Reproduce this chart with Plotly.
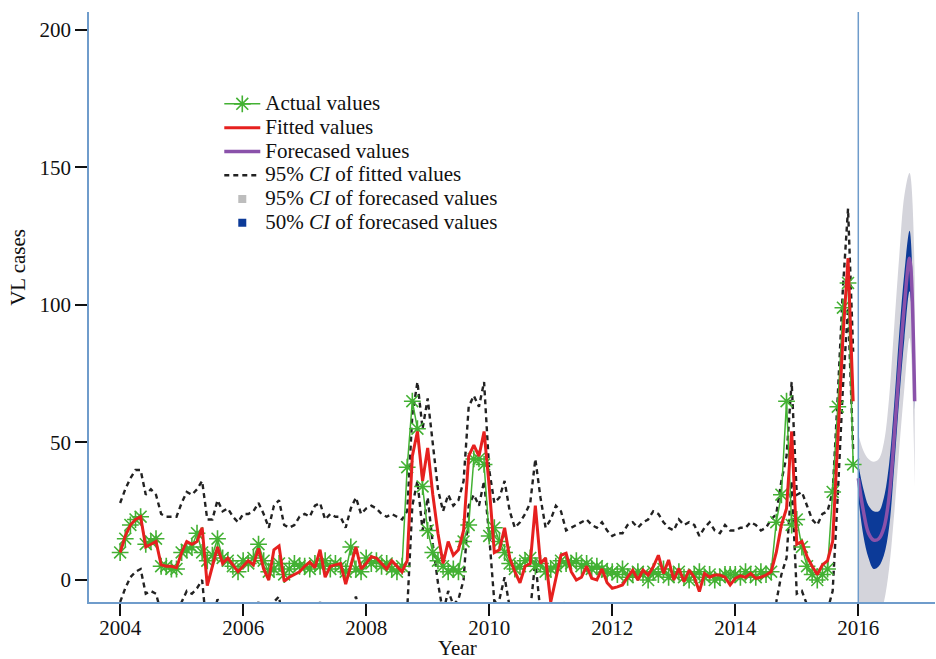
import plotly.graph_objects as go

# ---------------- data (monthly, Jan 2004 - Dec 2015) ----------------
years = list(range(2004, 2016))

actual = [
    10, 15, 20, 22, 23, 13, 14, 15, 5, 5, 4, 4,          # 2004
    10, 11, 12, 17, 10, 7, 9, 15, 8, 7, 5, 3,            # 2005
    7, 6, 8, 13, 7, 3, 4, 6, 2, 4, 6, 5,                 # 2006
    5, 4, 6, 5, 7, 4, 6, 5, 3, 12, 4, 3,                 # 2007
    8, 6, 7, 5, 6, 4, 3, 5, 41, 65, 55, 34,              # 2008
    18, 10, 7, 5, 3, 4, 3, 14, 20, 44, 44, 42,           # 2009
    16, 19, 14, 10, 6, 4, 5, 7, 8, 5, 6, 3,              # 2010
    4, 5, 7, 6, 6, 7, 5, 6, 4, 5, 4, 3,                  # 2011
    3, 2, 4, 1, 2, 3, 2, 0, 3, 2, 4, 1,                  # 2012
    2, 3, 1, 0, 2, 3, 1, 2, 0, 1, 2, 2,                  # 2013
    2, 1, 3, 2, 1, 3, 2, 3, 21, 31, 65, 20,              # 2014
    22, 12, 5, 2, 0, 2, 4, 32, 63, 99, 108, 42,          # 2015
]

fitted = [
    10, 16, 20, 22, 23, 12, 13, 14, 5.5, 5, 5, 4.5,
    10, 14, 13, 14, 19, -2, 5, 12, 6, 8, 5.5, 3,
    5, 7, 5.5, 11.5, 4, 0, 11, 12.4, -0.5, 1, 2, 3,
    5, 6.5, 4.5, 11, 1, 5, 5.5, 6, -1.5, 5, 12, 4,
    6, 8.5, 8, 6, 4, 7, 5, 3, 7, 45, 54, 36,
    48, 31, 17, 6, 14, 9, 11, 18, 45, 49, 45, 54,
    34, 10, 11, 19, 8, 3, -1, 5, 6, 27, 6, 8,
    -8, 1, 9, 9.7, 3, 0, 1, 5, 0.6, 0, 4, -1,
    -3, -2.5, -1.8, 1, 3.6, 0, 3.6, 1.8, 4.8, 9, 2.4, 7.3,
    0, 4.2, -0.6, 3.6, 1, -4.2, 2.4, 1, 1.8, 1.8, 1, -1.8,
    0.6, 1.5, 1, 2.4, 0.6, 1, 1.8, 3, 10, 20, 26, 54,
    13, 14, 8.5, 5, 2, 5.5, 7, 14, 49, 88, 117, 65,
]

ci_fit_upper = [
    28, 33, 37, 40, 40, 31, 33, 31, 24, 23, 23, 23,
    28, 32, 31, 33, 36, 22, 22, 29, 25, 26, 23, 21,
    24, 24, 25, 28, 24, 19, 27, 29, 20, 19, 20, 23,
    24, 23, 27, 28, 22, 24, 23, 23, 19, 26, 30, 24,
    26, 27, 26, 24, 23, 24, 23, 22, 25, 60, 72, 55,
    66, 50, 33, 25, 31, 27, 29, 36, 63, 67, 63, 72,
    40, 28, 30, 36, 25, 19, 21, 24, 28, 44, 30, 19,
    22, 27, 25, 18, 19, 20, 21, 22, 20, 19, 21, 18,
    16, 17, 17, 20, 21, 19, 21, 22, 25, 24, 21, 19,
    18, 22, 20, 21, 20, 16, 19, 21, 18, 17, 20, 18,
    18, 19, 19, 21, 20, 18, 19, 22, 24, 36, 45, 72,
    31, 32, 27, 22, 20, 24, 25, 32, 67, 106, 135, 83,
]

ci_fit_lower = [
    -8, -3, 1, 3, 4, -5, -4, -5, -12, -13, -13, -13,
    -8, -4, -5, -3, 0, -20, -14, -7, -11, -10, -13, -15,
    -13, -11, -13, -8, -14, -18, -8, -6, -18, -17, -16, -15,
    -13, -12, -14, -8, -17, -13, -12, -12, -19, -12, -6, -14,
    -13, -9, -10, -13, -14, -11, -13, -15, -11, 27, 36, 18,
    30, 13, -1, -12, -4, -9, -7, 0, 27, 31, 27, 36,
    16, -8, -7, 1, -10, -15, -13, -12, -11, 7, -12, -10,
    -26, -17, -9, -8, -15, -18, -17, -13, -17, -18, -14, -19,
    -21, -20, -20, -14, -18, -14, -16, -13, -9, -16, -11, -18,
    -14, -19, -14, -17, -22, -16, -17, -17, -16, -16, -17, -20,
    -17, -17, -16, -15, -17, -17, -16, -15, -8, 2, 8, 36,
    -5, -4, -9, -13, -16, -12, -11, -4, 31, 70, 99, 47,
]

# ---------------- forecast (monthly 2016) ----------------
forecast = [37, 25, 17, 14.5, 15, 19, 30, 52, 77, 100, 117, 65]
ci50_lo = [30, 16, 8, 4, 5, 9, 19, 41, 66, 88, 105, 62]
ci50_hi = [42, 33, 27, 25, 25, 30, 42, 64, 90, 112, 127, 68]
ci95_lo = [-12, -14, -16, -16, -14, -8, 4, 24, 48, 70, 88, 34]
ci95_hi = [53, 47, 44, 43, 44, 50, 66, 92, 118, 140, 148, 110]

x_ticks = [2004, 2006, 2008, 2010, 2012, 2014, 2016]
y_ticks = [0, 50, 100, 150, 200]

# ---------------- build ----------------
x_hist = [y + m / 12 for y in years for m in range(12)]
x_fc = [2016 + m / 12 for m in range(12)]

FONT = "Liberation Serif, Times New Roman, serif"
GREEN = "#43b133"
RED = "#e6201f"
PURPLE = "#8a52aa"
BLUE = "#0c3a98"
GRAY = "#d4d4db"
AXIS = "#6f9ccb"


def leg(txt):
    # legend row spacing follows the legend font size; the text itself is drawn larger
    return '<span style="font-size:21px">' + txt + '</span>'


fig = go.Figure()

# 95% CI forecast band
fig.add_trace(go.Scatter(x=x_fc, y=ci95_lo, mode="lines", line=dict(width=0, shape="spline"),
                         showlegend=False, hoverinfo="skip"))
fig.add_trace(go.Scatter(x=x_fc, y=ci95_hi, mode="lines", line=dict(width=0, shape="spline"),
                         fill="tonexty", fillcolor=GRAY, showlegend=False, hoverinfo="skip"))
# 50% CI forecast band
fig.add_trace(go.Scatter(x=x_fc, y=ci50_lo, mode="lines", line=dict(width=0, shape="spline"),
                         showlegend=False, hoverinfo="skip"))
fig.add_trace(go.Scatter(x=x_fc, y=ci50_hi, mode="lines", line=dict(width=0, shape="spline"),
                         fill="tonexty", fillcolor=BLUE, showlegend=False, hoverinfo="skip"))

# forecast line
fig.add_trace(go.Scatter(x=x_fc, y=forecast, mode="lines", name=leg("Forecased values"),
                         line=dict(color=PURPLE, width=3.5, shape="spline"), legendrank=3))

# 95% CI of fitted values
fig.add_trace(go.Scatter(x=x_hist, y=ci_fit_upper, mode="lines",
                         name=leg("95% <i>CI</i> of fitted values"),
                         line=dict(color="#222222", width=2.4, dash="5px,4px"), legendrank=4))
fig.add_trace(go.Scatter(x=x_hist, y=ci_fit_lower, mode="lines", showlegend=False,
                         line=dict(color="#222222", width=2.4, dash="5px,4px")))

# actual values
fig.add_trace(go.Scatter(x=x_hist, y=actual, mode="lines+markers", name=leg("Actual values"),
                         line=dict(color=GREEN, width=1.5),
                         marker=dict(symbol="asterisk-open", size=14,
                                     line=dict(color=GREEN, width=1.6)),
                         legendrank=1))
# fitted values
fig.add_trace(go.Scatter(x=x_hist, y=fitted, mode="lines", name=leg("Fitted values"),
                         line=dict(color=RED, width=3), legendrank=2))

# legend entries for the bands
fig.add_trace(go.Scatter(x=[None], y=[None], mode="markers",
                         name=leg("95% <i>CI</i> of forecased values"),
                         marker=dict(symbol="square", size=8, color="#bdbdbd"), legendrank=5))
fig.add_trace(go.Scatter(x=[None], y=[None], mode="markers",
                         name=leg("50% <i>CI</i> of forecased values"),
                         marker=dict(symbol="square", size=8, color=BLUE), legendrank=6))

fig.add_shape(type="line", x0=2016, x1=2016, xref="x", y0=0, y1=1, yref="paper",
              line=dict(color=AXIS, width=1.5), layer="above")

# axis titles (placed as in the reference)
fig.add_annotation(text="VL cases", textangle=-90, xref="paper", yref="paper",
                   x=-0.084, y=0.568, xanchor="center", yanchor="middle", showarrow=False,
                   font=dict(family=FONT, size=21, color="#111111"))
fig.add_annotation(text="Year", xref="paper", yref="paper",
                   x=0.436, y=-0.078, xanchor="center", yanchor="middle", showarrow=False,
                   font=dict(family=FONT, size=21, color="#111111"))

fig.update_layout(
    width=936, height=659,
    margin=dict(l=89, r=1, t=12, b=57),
    paper_bgcolor="white", plot_bgcolor="white",
    font=dict(family=FONT, size=21, color="#111111"),
    showlegend=True,
    legend=dict(x=0.154, y=0.873, xanchor="left", yanchor="top", traceorder="normal",
                bgcolor="rgba(0,0,0,0)", font=dict(family=FONT, size=16, color="#111111"),
                itemwidth=36, tracegroupgap=0),
    xaxis=dict(range=[2003.494, 2017.247], tickvals=x_ticks, ticks="outside", ticklen=12,
               ticklabelstandoff=-6,
               tickwidth=1.5, tickcolor="#111111", showline=True, linecolor=AXIS, linewidth=1.5,
               showgrid=False, zeroline=False,
               tickfont=dict(family=FONT, size=21)),
    yaxis=dict(range=[-8, 206.5], tickvals=y_ticks, ticks="outside", ticklen=12,
               tickwidth=1.5, tickcolor="#111111", showline=True, linecolor=AXIS, linewidth=1.5,
               showgrid=False, zeroline=False,
               tickfont=dict(family=FONT, size=21)),
)

fig.write_html("out.html")
